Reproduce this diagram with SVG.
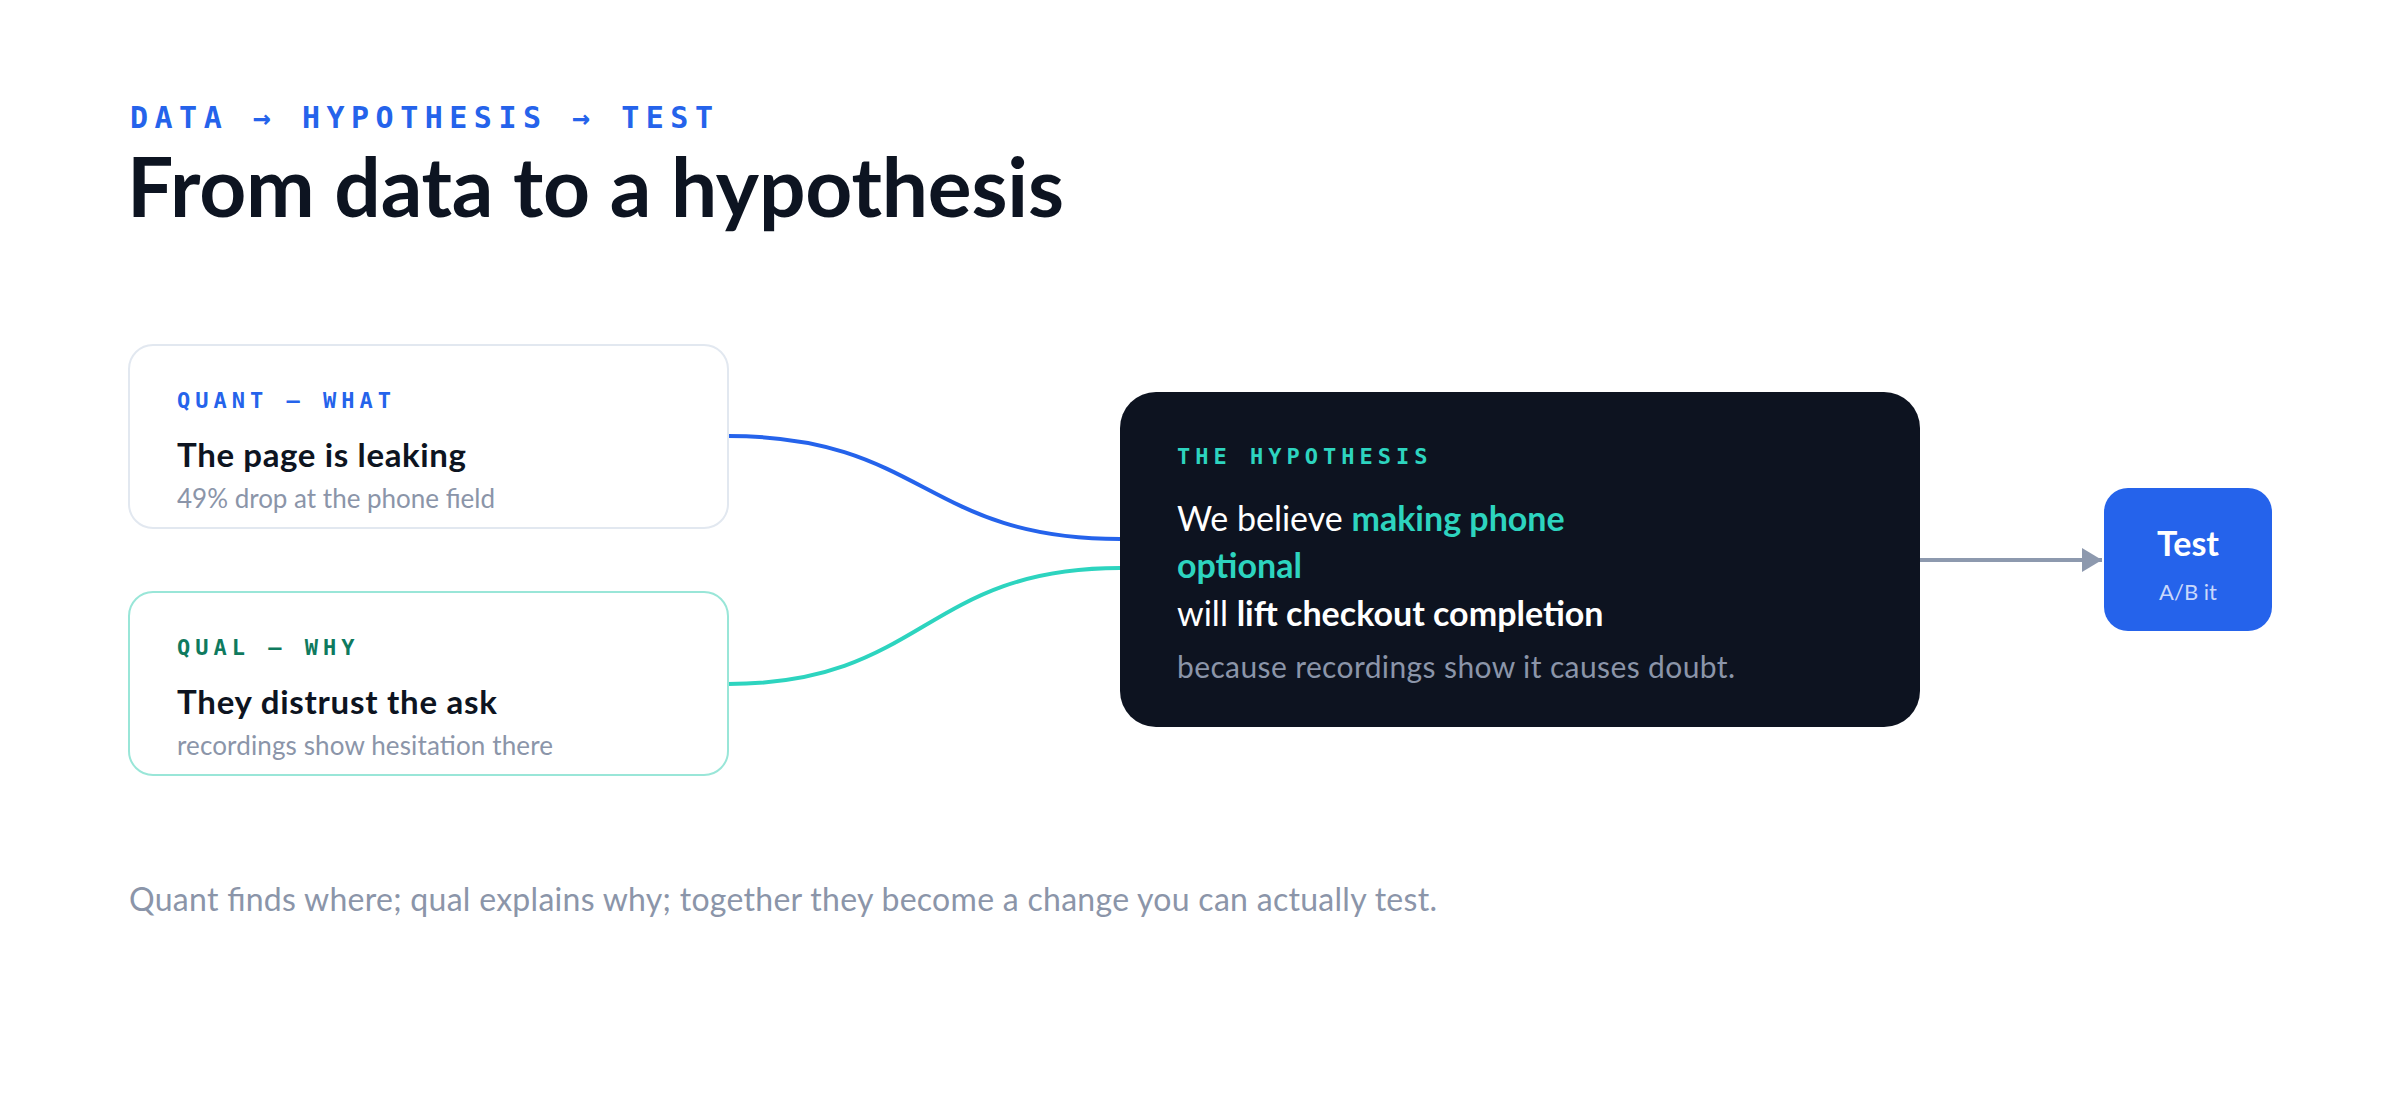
<svg xmlns="http://www.w3.org/2000/svg" width="2400" height="1120" viewBox="0 0 2400 1120">
  <defs>
    <style>
      .mono { font-family: "DejaVu Sans Mono", "Liberation Mono", monospace; font-weight: bold; }
      .sans { font-family: Lato, "Liberation Sans", sans-serif; }
      .eyebrow { font-size: 30px; letter-spacing: 6.5px; fill: #2563eb; }
      .label { font-size: 22px; letter-spacing: 5px; }
      .h1 { font-size: 82px; font-weight: bold; fill: #0d1421; }
      .card-title { font-size: 33px; font-weight: bold; fill: #0d1421; }
      .card-sub { font-size: 26px; fill: #8b95a9; }
      .hyp { font-size: 34px; fill: #ffffff; }
      .hyp-b { font-weight: bold; }
      .teal { fill: #2dd4bf; }
      .hyp-sub { font-size: 30px; fill: #8b95a9; }
      .footer { font-size: 32px; fill: #8b95a9; }
      .conn { fill: none; stroke-width: 4; }
    </style>
    <marker id="arrow" viewBox="0 0 20 24" refX="20" refY="12" markerWidth="20" markerHeight="24" markerUnits="userSpaceOnUse" orient="auto">
      <path d="M0,0 L20,12 L0,24 Z" fill="#8d99ae"/>
    </marker>
  </defs>

  <rect width="2400" height="1120" fill="#ffffff"/>

  <g id="header">
    <text class="mono eyebrow" x="130" y="128">DATA → HYPOTHESIS → TEST</text>
    <text class="sans h1" x="127" y="217" textLength="937">From data to a hypothesis</text>
  </g>

  <g id="connectors">
    <path class="conn" d="M728,436 C924,436 924,539 1120,539" stroke="#2563eb"/>
    <path class="conn" d="M728,684 C924,684 924,568 1120,568" stroke="#2dd4bf"/>
    <line x1="1920" y1="560" x2="2102" y2="560" stroke="#8d99ae" stroke-width="4" marker-end="url(#arrow)"/>
  </g>

  <g id="quant">
    <rect x="129" y="345" width="599" height="183" rx="24" fill="#ffffff" stroke="#e2e8f0" stroke-width="2"/>
    <text class="mono label" x="177" y="408" fill="#2563eb">QUANT — WHAT</text>
    <text class="sans card-title" x="177" y="467" textLength="289">The page is leaking</text>
    <text class="sans card-sub" x="177" y="508" textLength="318">49% drop at the phone field</text>
  </g>

  <g id="qual">
    <rect x="129" y="592" width="599" height="183" rx="24" fill="#ffffff" stroke="#99e6d8" stroke-width="2"/>
    <text class="mono label" x="177" y="655" fill="#0f7a5e">QUAL — WHY</text>
    <text class="sans card-title" x="177" y="714" textLength="320">They distrust the ask</text>
    <text class="sans card-sub" x="177" y="755" textLength="376">recordings show hesitation there</text>
  </g>

  <g id="hypothesis">
    <rect x="1120" y="392" width="800" height="335" rx="36" fill="#0d1320"/>
    <text class="mono label teal" x="1177" y="464">THE HYPOTHESIS</text>
    <text class="sans hyp" x="1177" y="531">We believe <tspan class="hyp-b teal">making phone</tspan></text>
    <text class="sans hyp hyp-b teal" x="1177" y="578">optional</text>
    <text class="sans hyp" x="1177" y="626">will <tspan class="hyp-b">lift checkout completion</tspan></text>
    <text class="sans hyp-sub" x="1177" y="678" textLength="558">because recordings show it causes doubt.</text>
  </g>

  <g id="test">
    <rect x="2104" y="488" width="168" height="143" rx="24" fill="#2563eb"/>
    <text class="sans" x="2188" y="556" text-anchor="middle" font-size="34" font-weight="bold" fill="#ffffff">Test</text>
    <text class="sans" x="2188" y="600" text-anchor="middle" font-size="22" fill="#c9d8fb">A/B it</text>
  </g>

  <g id="footer">
    <text class="sans footer" x="129" y="911" textLength="1308">Quant finds where; qual explains why; together they become a change you can actually test.</text>
  </g>
</svg>
